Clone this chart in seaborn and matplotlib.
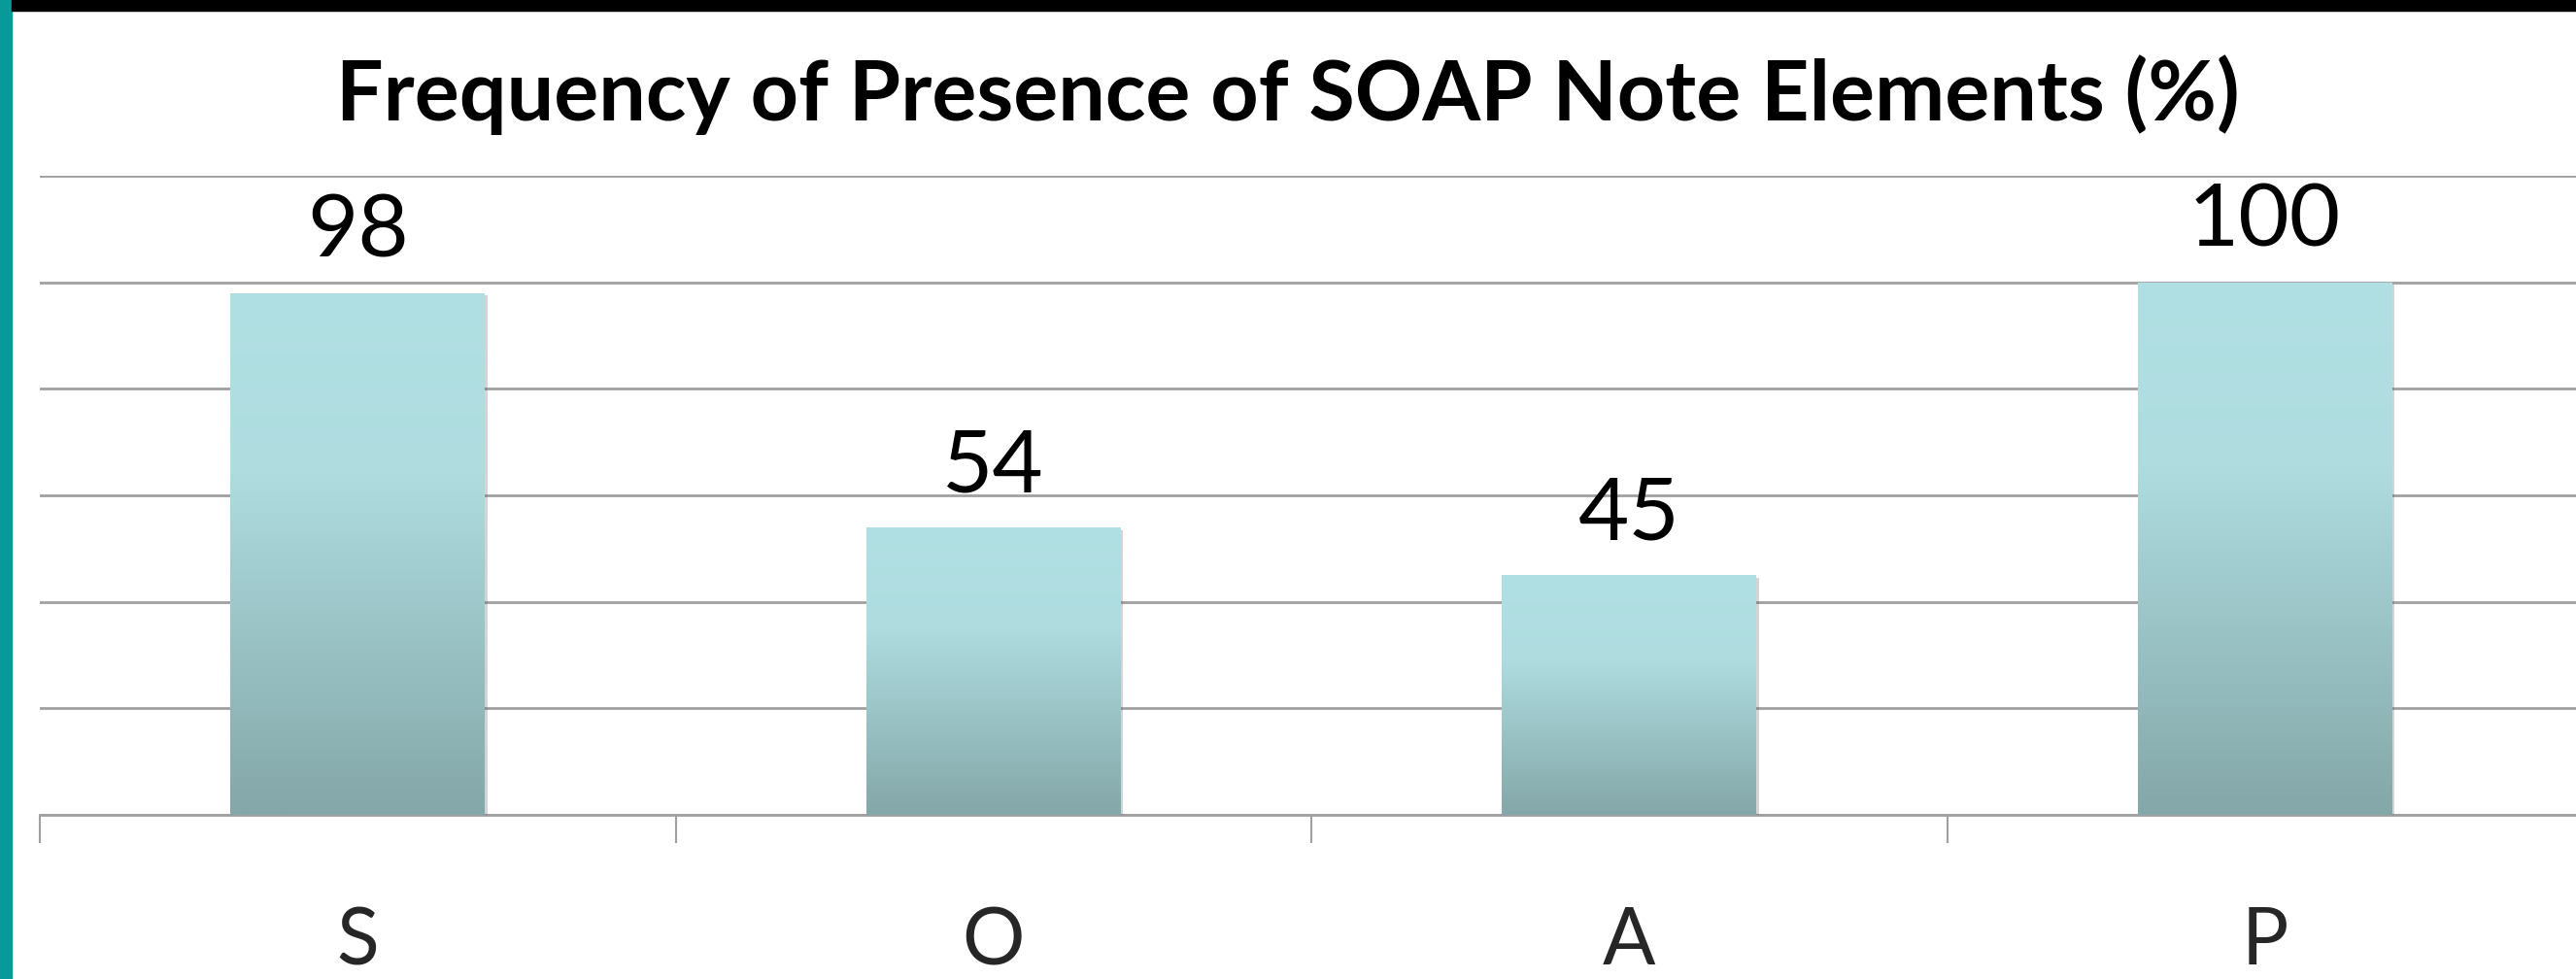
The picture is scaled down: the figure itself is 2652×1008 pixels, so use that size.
import matplotlib
matplotlib.use("Agg")
import matplotlib.pyplot as plt
import seaborn as sns
import numpy as np
from matplotlib.colors import LinearSegmentedColormap
from matplotlib.patches import Rectangle
import matplotlib.patheffects as pe

# === data ===
elements = ["S", "O", "A", "P"]
presence_pct = [98, 54, 45, 100]
title = "Frequency of Presence of SOAP Note Elements (%)"

sns.set_theme(style="white")
plt.rcParams["font.family"] = ["Lato", "DejaVu Sans"]

W, H = 2652, 1008
fig = plt.figure(figsize=(W / 100, H / 100), dpi=100)
ax = fig.add_axes([41 / W, 169 / H, 2618 / W, 658 / H])

sns.barplot(x=elements, y=presence_pct, width=0.4, color="#b0dfe3",
            saturation=1, ax=ax, zorder=3)

# gradient fill + soft shadow on each bar
grad_cmap = LinearSegmentedColormap.from_list(
    "bar", [(0, "#b1e0e4"), (0.35, "#aedcdf"), (1, "#84a7a9")])
grad = np.linspace(0, 1, 256).reshape(-1, 1)
for bar in ax.patches:
    bar.set_edgecolor("none")
    bar.set_path_effects([pe.SimplePatchShadow(offset=(2, -2), alpha=0.25, shadow_rgbFace="#555555"),
                          pe.Normal()])
    x0, y0 = bar.get_x(), bar.get_y()
    img = ax.imshow(grad, cmap=grad_cmap, aspect="auto", zorder=4,
                    extent=[x0, x0 + bar.get_width(), y0, y0 + bar.get_height()],
                    origin="upper")
    img.set_clip_path(bar)

ax.bar_label(ax.containers[0], labels=[str(v) for v in presence_pct],
             padding=15, fontsize=65, color="black", zorder=5)

ax.set_xlim(-0.5, 3.5)
ax.set_ylim(0, 120)
ax.set_yticks(range(0, 121, 20))
ax.yaxis.grid(True, color="#a0a0a0", linewidth=2)
ax.set_axisbelow(True)
ax.tick_params(axis="y", left=False, labelleft=False)

# category labels, with boundary ticks
ax.set_xticks(range(len(elements)))
ax.set_xticklabels(elements, fontsize=58)
ax.set_xticks(np.arange(-0.5, 4, 1), minor=True)
ax.tick_params(axis="x", which="major", length=0, pad=68)
ax.tick_params(axis="x", which="minor", length=21, width=1.5, color="#a0a0a0", bottom=True)

for side in ["left", "top", "right"]:
    ax.spines[side].set_visible(False)
ax.spines["bottom"].set_color("#a0a0a0")
ax.spines["bottom"].set_linewidth(2)
ax.set_xlabel("")
ax.set_ylabel("")

fig.text(0.5, 1 - 98 / H, title, ha="center", va="center",
         fontsize=62, fontweight="bold", color="black")

# slide decoration: teal strip on the left, black band on top
fig.patches.append(Rectangle((0, 0), 12 / W, 1, transform=fig.transFigure,
                             color="#089a98", zorder=10))
fig.patches.append(Rectangle((12 / W, 1 - 11 / H), 1, 11 / H, transform=fig.transFigure,
                             color="black", zorder=10))

fig.savefig("out.png", dpi=100)
